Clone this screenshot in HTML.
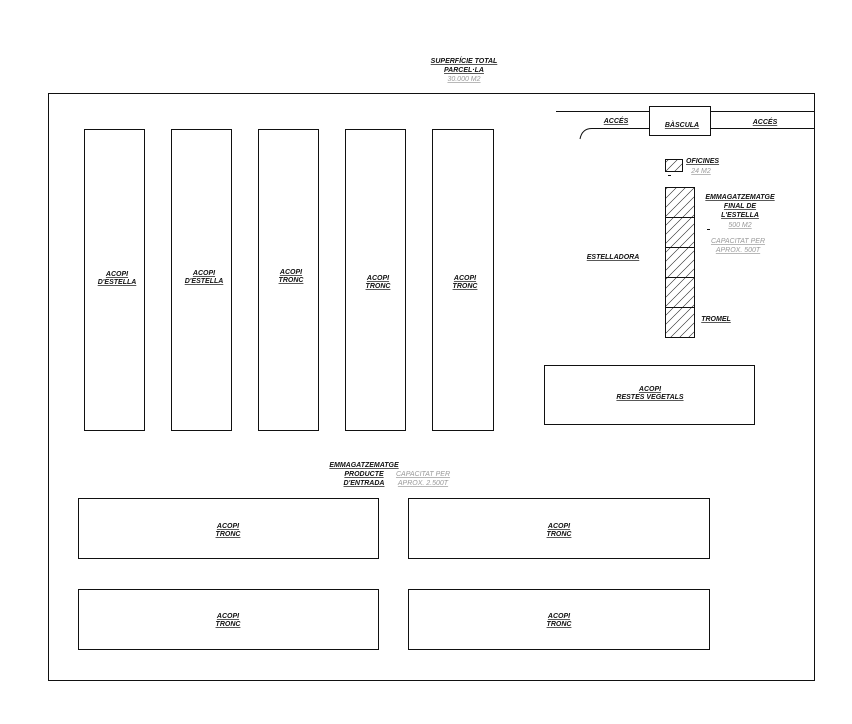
<!DOCTYPE html>
<html><head><meta charset="utf-8"><style>
html,body{margin:0;padding:0;background:#fff;}
svg text{font-family:"Liberation Sans",sans-serif;font-size:7px;font-weight:bold;font-style:italic;text-decoration:underline;text-anchor:middle;fill:#111;}
svg text.g{fill:#999;font-weight:normal;}
svg text.l{text-anchor:start;}
</style></head><body>
<svg width="852" height="719" viewBox="0 0 852 719" xmlns="http://www.w3.org/2000/svg">
<defs>
<pattern id="h" width="9" height="9" patternUnits="userSpaceOnUse">
<line x1="0" y1="9" x2="9" y2="0" stroke="#222" stroke-width="0.6"/>
<line x1="-1" y1="1" x2="1" y2="-1" stroke="#222" stroke-width="0.6"/>
<line x1="8" y1="10" x2="10" y2="8" stroke="#222" stroke-width="0.6"/>
</pattern>
</defs>
<g fill="none" stroke="#111" stroke-width="1">
<rect x="48.5" y="93.5" width="766" height="587"/>
<rect x="84.5" y="129.5" width="60" height="301"/>
<rect x="171.5" y="129.5" width="60" height="301"/>
<rect x="258.5" y="129.5" width="60" height="301"/>
<rect x="345.5" y="129.5" width="60" height="301"/>
<rect x="432.5" y="129.5" width="61" height="301"/>
<rect x="544.5" y="365.5" width="210" height="59"/>
<rect x="78.5" y="498.5" width="300" height="60"/>
<rect x="408.5" y="498.5" width="301" height="60"/>
<rect x="78.5" y="589.5" width="300" height="60"/>
<rect x="408.5" y="589.5" width="301" height="60"/>
<rect x="649.5" y="106.5" width="61" height="29"/>
<line x1="556" y1="111.5" x2="649" y2="111.5"/>
<line x1="710" y1="111.5" x2="814" y2="111.5"/>
<line x1="710" y1="128.5" x2="814" y2="128.5"/>
<path d="M580 139 Q582 128.5 592 128.5 L649 128.5"/>
<rect x="665.5" y="159.5" width="17" height="12" fill="url(#h)"/>
<rect x="665.5" y="187.5" width="29" height="150" fill="url(#h)"/>
<line x1="665" y1="217.5" x2="694" y2="217.5"/>
<line x1="665" y1="247.5" x2="694" y2="247.5"/>
<line x1="665" y1="277.5" x2="694" y2="277.5"/>
<line x1="665" y1="307.5" x2="694" y2="307.5"/>
<line x1="668" y1="175.5" x2="671" y2="175.5"/>
<line x1="707" y1="229.5" x2="710" y2="229.5"/>
</g>
<text x="464" y="63">SUPERFÍCIE TOTAL</text>
<text x="464" y="72">PARCEL·LA</text>
<text class="g" x="464" y="81">30.000 M2</text>
<text x="616" y="123">ACCÉS</text>
<text x="682" y="127">BÀSCULA</text>
<text x="765" y="124">ACCÉS</text>
<text class="l" x="686" y="163">OFICINES</text>
<text class="g" x="701" y="173">24 M2</text>
<text x="740" y="199">EMMAGATZEMATGE</text>
<text x="740" y="208">FINAL DE</text>
<text x="740" y="217">L'ESTELLA</text>
<text class="g" x="740" y="227">500 M2</text>
<text class="g" x="738" y="243">CAPACITAT PER</text>
<text class="g" x="738" y="252">APROX. 500T</text>
<text x="613" y="259">ESTELLADORA</text>
<text x="716" y="321">TROMEL</text>
<text x="117" y="276">ACOPI</text><text x="117" y="284">D'ESTELLA</text>
<text x="204" y="275">ACOPI</text><text x="204" y="283">D'ESTELLA</text>
<text x="291" y="274">ACOPI</text><text x="291" y="282">TRONC</text>
<text x="378" y="280">ACOPI</text><text x="378" y="288">TRONC</text>
<text x="465" y="280">ACOPI</text><text x="465" y="288">TRONC</text>
<text x="650" y="391">ACOPI</text><text x="650" y="399">RESTES VEGETALS</text>
<text x="364" y="467">EMMAGATZEMATGE</text>
<text x="364" y="476">PRODUCTE</text>
<text x="364" y="485">D'ENTRADA</text>
<text class="g" x="423" y="476">CAPACITAT PER</text>
<text class="g" x="423" y="485">APROX. 2.500T</text>
<text x="228" y="528">ACOPI</text><text x="228" y="536">TRONC</text>
<text x="559" y="528">ACOPI</text><text x="559" y="536">TRONC</text>
<text x="228" y="618">ACOPI</text><text x="228" y="626">TRONC</text>
<text x="559" y="618">ACOPI</text><text x="559" y="626">TRONC</text>
</svg>
</body></html>
